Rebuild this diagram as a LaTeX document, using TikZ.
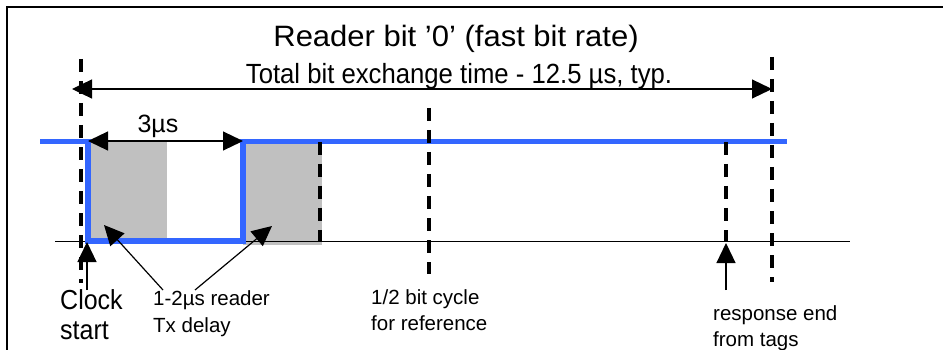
\documentclass[tikz,border=0pt]{standalone}
\usepackage{fontspec}
\setmainfont{Liberation Sans}
\usetikzlibrary{arrows.meta}
\definecolor{sigblue}{RGB}{51,102,255}
\definecolor{shadegray}{RGB}{192,192,192}
\definecolor{baseline}{RGB}{40,40,40}
\begin{document}
\begin{tikzpicture}[x=1pt,y=-1pt,
  dashv/.style={line width=4pt, dash pattern=on 13pt off 9pt},
  tiparrow/.style={-{Triangle[length=20pt,width=19pt]}, line width=1.2pt},
  dimarrow/.style={{Triangle[length=20pt,width=19pt]}-{Triangle[length=20pt,width=19pt]}, line width=1.2pt},
  wave/.style={sigblue, line width=5.5pt, line join=miter},
  small/.style={font=\fontsize{20.5}{25}\selectfont, inner sep=0pt, anchor=base west},
  mid/.style={font=\fontsize{25}{30}\selectfont, inner sep=0pt, anchor=base west}]
\useasboundingbox (0,0) rectangle (943,350);
% frame
\draw[line width=2.5pt] (7,350) -- (7,7) -- (943,7);
% titles
\node[font=\fontsize{31}{36}\selectfont, inner sep=0pt, anchor=base] (title) at (456,47) {\scalebox{1}[0.95]{Reader bit ’0’ (fast bit rate)}};
\node[font=\fontsize{25.7}{30}\selectfont, inner sep=0pt, anchor=base] (subtitle) at (459,84) {\scalebox{1}[1.08]{Total bit exchange time - 12.5 µs, typ.}};
% shaded delay regions
\fill[shadegray] (88,142) rectangle (167,241);
\fill[shadegray] (243,144) rectangle (322,245);
% baseline
\coordinate (b0) at (55,241.5);
\coordinate (b1) at (850,241.5);
\draw[baseline, line width=1.5pt] (b0) -- (b1);
% waveform
\coordinate (w0) at (40,141.5);
\coordinate (fall) at (88,141.5);
\coordinate (low1) at (88,241);
\coordinate (low2) at (243,241);
\coordinate (rise) at (243,141.5);
\coordinate (w1) at (787,141.5);
\draw[wave] (w0) -- (fall) -- (low1) -- (low2) -- (rise) -- (w1);
% dashed markers
\coordinate (c0) at (81,59);   \coordinate (c1) at (81,283);
\coordinate (d0) at (320,142); \coordinate (d1) at (320,242);
\coordinate (h0) at (429,108); \coordinate (h1) at (429,274);
\coordinate (r0) at (726,142); \coordinate (r1) at (726,241);
\coordinate (e0) at (772,57);  \coordinate (e1) at (772,282);
\draw[dashv] (c0) -- (c1);
\draw[dashv] (d0) -- (d1);
\draw[dashv] (h0) -- (h1);
\draw[dashv] (r0) -- (r1);
\draw[dashv] (e0) -- (e1);
% total time arrow
\coordinate (tl) at (72,89);
\coordinate (tr) at (772,89);
\draw[dimarrow] (tl) -- (tr);
% 3us arrow
\coordinate (sl) at (88,141);
\coordinate (sr) at (243,141);
\draw[dimarrow] (sl) -- (sr);
\node[mid, anchor=base] (three) at (158,133) {3µs};
% labels
\node[mid] (clock) at (60,309) {\scalebox{1}[1.1]{Clock}};
\node[mid] (start) at (60,339) {\scalebox{1}[1.1]{start}};
\node[small] (delay1) at (153,305.5) {1-2µs reader};
\node[small] (delay2) at (153,332) {Tx delay};
\node[small] (half1) at (371,304) {1/2 bit cycle};
\node[small] (half2) at (371,330.5) {for reference};
\node[small] (resp1) at (713,320) {response end};
\node[small] (resp2) at (713,346) {from tags};
% pointer arrows
\coordinate (ct) at (87,290);  \coordinate (ch) at (87,242);
\draw[tiparrow] (ct) -- (ch);
\coordinate (a1t) at (163,290); \coordinate (a1h) at (104,225);
\coordinate (a2t) at (195,290); \coordinate (a2h) at (272,226);
\draw[tiparrow] (a1t) -- (a1h);
\draw[tiparrow] (a2t) -- (a2h);
\coordinate (rt) at (726,290); \coordinate (rh) at (726,243);
\draw[tiparrow] (rt) -- (rh);
\end{tikzpicture}
\end{document}
